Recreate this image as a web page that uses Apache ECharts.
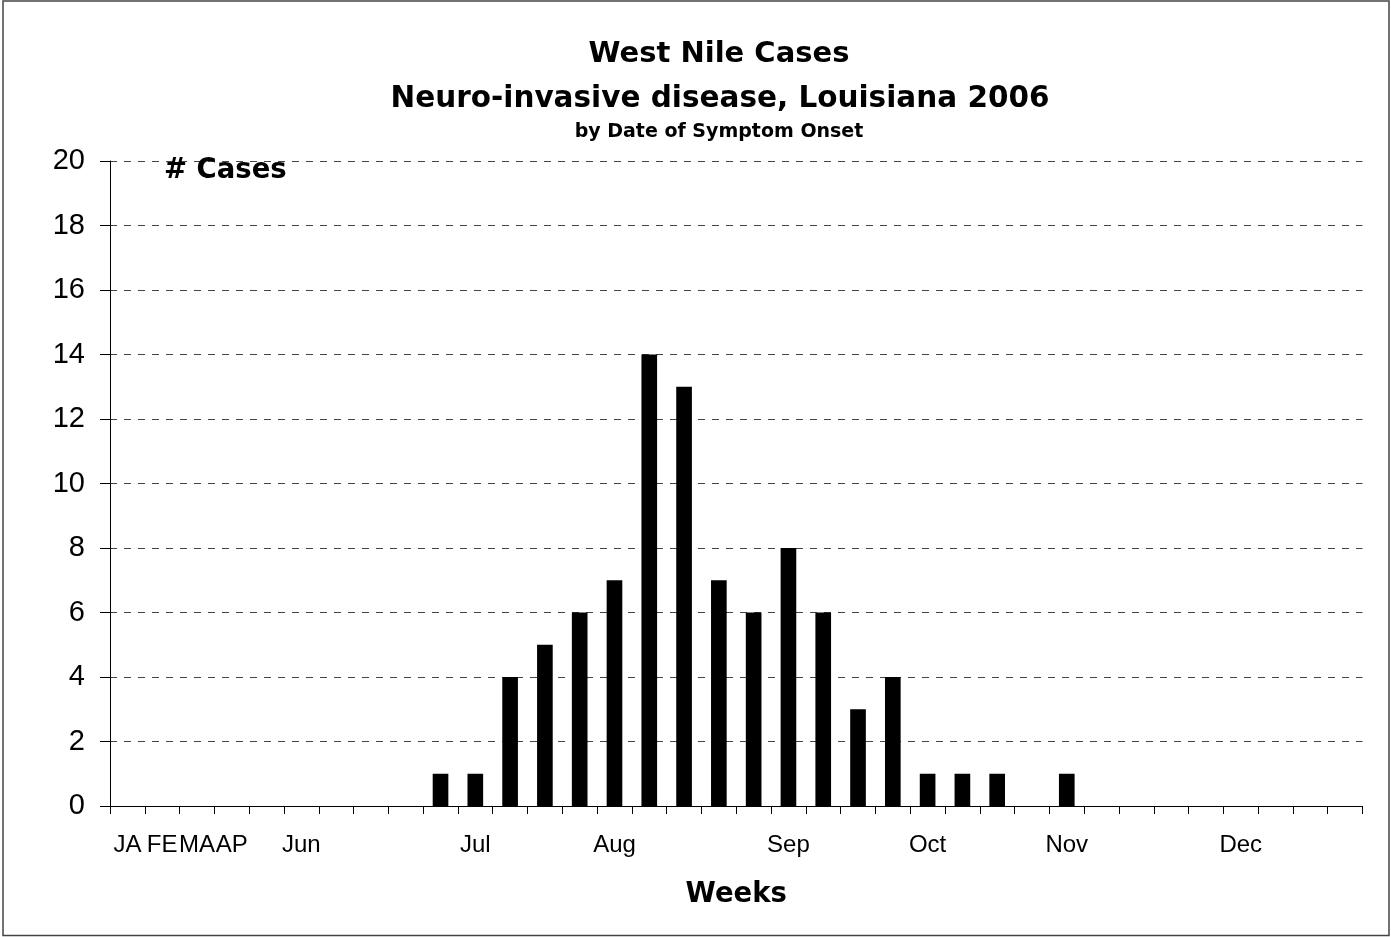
<!DOCTYPE html>
<html>
<head>
<meta charset="utf-8">
<script src="https://cdn.jsdelivr.net/npm/echarts@6/dist/echarts.min.js"></script>
<style>
html,body{margin:0;padding:0;background:#fff;}
#chart{width:1391px;height:937px;}
</style>
</head>
<body>
<div id="chart"></div>
<script>
var weeks = ['W1','W2','W3','W4','W5','W6','W7','W8','W9','W10','W11','W12','W13','W14','W15','W16','W17','W18','W19','W20','W21','W22','W23','W24','W25','W26','W27','W28','W29','W30','W31','W32','W33','W34','W35','W36'];
var tickLabels = ['JA','FE','MA','AP','','Jun','','','','','Jul','','','','Aug','','','','','Sep','','','','Oct','','','','Nov','','','','','Dec','','',''];
var cases = [0,0,0,0,0,0,0,0,0,1,1,4,5,6,7,14,13,7,6,8,6,3,4,1,1,1,0,1,0,0,0,0,0,0,0,0];
var yTicks = {min: 0, max: 20, interval: 2};

var chart = echarts.init(document.getElementById('chart'), null, {renderer: 'canvas'});
var boldFont = 'DejaVu Sans';
var regFont = 'Liberation Sans';
chart.setOption({
  animation: false,
  backgroundColor: '#ffffff',
  title: [
    {text: 'West Nile Cases', left: 719, textAlign: 'center', padding: 0, top: 40, textStyle: {fontFamily: boldFont, fontWeight: 'bold', fontSize: 29, color: '#000'}},
    {text: 'Neuro-invasive disease, Louisiana 2006', left: 720, textAlign: 'center', padding: 0, top: 84, textStyle: {fontFamily: boldFont, fontWeight: 'bold', fontSize: 29.5, color: '#000'}},
    {text: 'by Date of Symptom Onset', left: 719, textAlign: 'center', padding: 0, top: 123, textStyle: {fontFamily: boldFont, fontWeight: 'bold', fontSize: 19, color: '#000'}},
    {text: '# Cases', left: 164, padding: 0, top: 157, textStyle: {fontFamily: boldFont, fontWeight: 'bold', fontSize: 27.5, color: '#000'}}
  ],
  graphic: [{
    type: 'rect', silent: true,
    shape: {x: 3, y: 1, width: 1386, height: 934.5},
    style: {fill: 'none', stroke: '#444', lineWidth: 1.5}
  }],
  grid: {left: 110, right: 28.5, top: 161, bottom: 131, containLabel: false},
  xAxis: {
    type: 'category',
    data: weeks,
    boundaryGap: true,
    name: 'Weeks',
    nameLocation: 'middle',
    nameGap: 75,
    nameTextStyle: {fontFamily: boldFont, fontWeight: 'bold', fontSize: 27.5, color: '#000'},
    axisLine: {show: true, lineStyle: {color: '#000', width: 1}},
    axisTick: {show: true, length: 8, interval: 0, alignWithLabel: false, lineStyle: {color: '#000', width: 1}},
    axisLabel: {
      interval: 0, hideOverlap: false, margin: 27,
      fontFamily: regFont, fontSize: 24, color: '#000',
      formatter: function (v, i) { return tickLabels[i]; }
    },
    splitLine: {show: false}
  },
  yAxis: {
    type: 'value',
    min: yTicks.min, max: yTicks.max, interval: yTicks.interval,
    axisLine: {show: true, lineStyle: {color: '#000', width: 1}},
    axisTick: {show: true, length: 10, lineStyle: {color: '#000', width: 1}},
    axisLabel: {margin: 25, fontFamily: regFont, fontSize: 29, color: '#000'},
    splitLine: {show: true, lineStyle: {color: '#444', width: 1, type: [7, 7]}}
  },
  series: [{
    type: 'bar',
    data: cases,
    barWidth: '45%',
    itemStyle: {color: '#000', borderWidth: 0}
  }]
});
</script>
</body>
</html>
